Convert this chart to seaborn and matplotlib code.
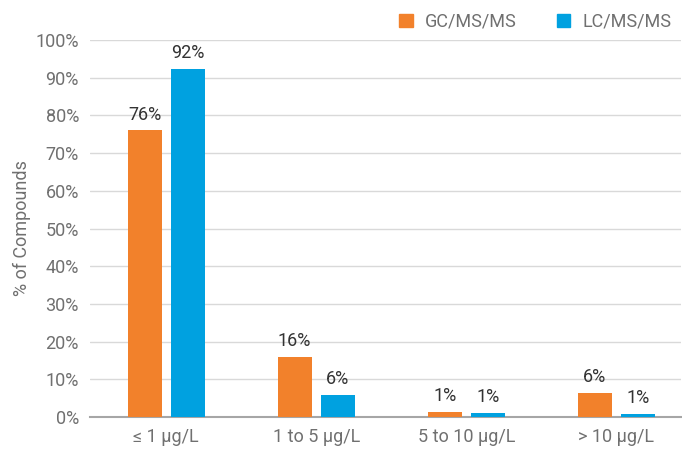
import pandas as pd
import numpy as np
import seaborn as sns
from matplotlib import pyplot as plt

# 数据
categories = ['≤ 1 µg/L', '1 to 5 µg/L', '5 to 10 µg/L', '> 10 µg/L']
gc_values = [76.0, 16.0, 1.3, 6.3]
lc_values = [92.3, 5.8, 1.0, 0.8]
gc_labels = ['76%', '16%', '1%', '6%']
lc_labels = ['92%', '6%', '1%', '1%']
series = ['GC/MS/MS', 'LC/MS/MS']
colors = ['#F2812B', '#00A1E0']

sns.set_theme(style='white')
plt.rcParams['font.family'] = ['Roboto', 'DejaVu Sans']

df = pd.DataFrame({
    'cat': categories * 2,
    'val': gc_values + lc_values,
    'series': [series[0]] * 4 + [series[1]] * 4,
})

fig = plt.figure(figsize=(6.82, 4.49), dpi=100)
ax = fig.add_axes([90 / 682, 32 / 449, 591 / 682, 377 / 449])

sns.barplot(data=df, x='cat', y='val', hue='series', palette=colors,
            width=0.574, gap=0.21, saturation=1, ax=ax, legend=False,
            zorder=3, linewidth=0)

# 柱顶标注
for cont, labs in zip(ax.containers, [gc_labels, lc_labels]):
    ax.bar_label(cont, labels=labs, padding=5, fontsize=13, color='#333333')

ax.set_ylim(0, 100)
ax.set_xlim(-0.507, 3.43)
ax.set_yticks(np.arange(0, 101, 10))
ax.set_yticklabels([f'{v}%' for v in range(0, 101, 10)])
ax.yaxis.grid(True, color='#D9D9D9', linewidth=1)
ax.set_axisbelow(True)
for s in ['top', 'right', 'left']:
    ax.spines[s].set_visible(False)
ax.spines['bottom'].set_color('#A6A6A6')
ax.spines['bottom'].set_linewidth(1.5)
ax.spines['bottom'].set_zorder(1)
ax.tick_params(axis='both', length=0, labelsize=13, colors='#707070', pad=8)
ax.set_xlabel('')
ax.set_ylabel('% of Compounds', fontsize=13, color='#707070', labelpad=3)

# 图例
handles = [plt.Rectangle((0, 0), 1, 1, color=c) for c in colors]
ax.legend(handles, series, loc='lower right', bbox_to_anchor=(1.0, 1.0),
          ncol=2, frameon=False, fontsize=13, labelcolor='#707070',
          handlelength=0.75, handleheight=0.75, columnspacing=2.2,
          handletextpad=0.7, borderaxespad=0.1)

fig.savefig('out.png', dpi=100)
